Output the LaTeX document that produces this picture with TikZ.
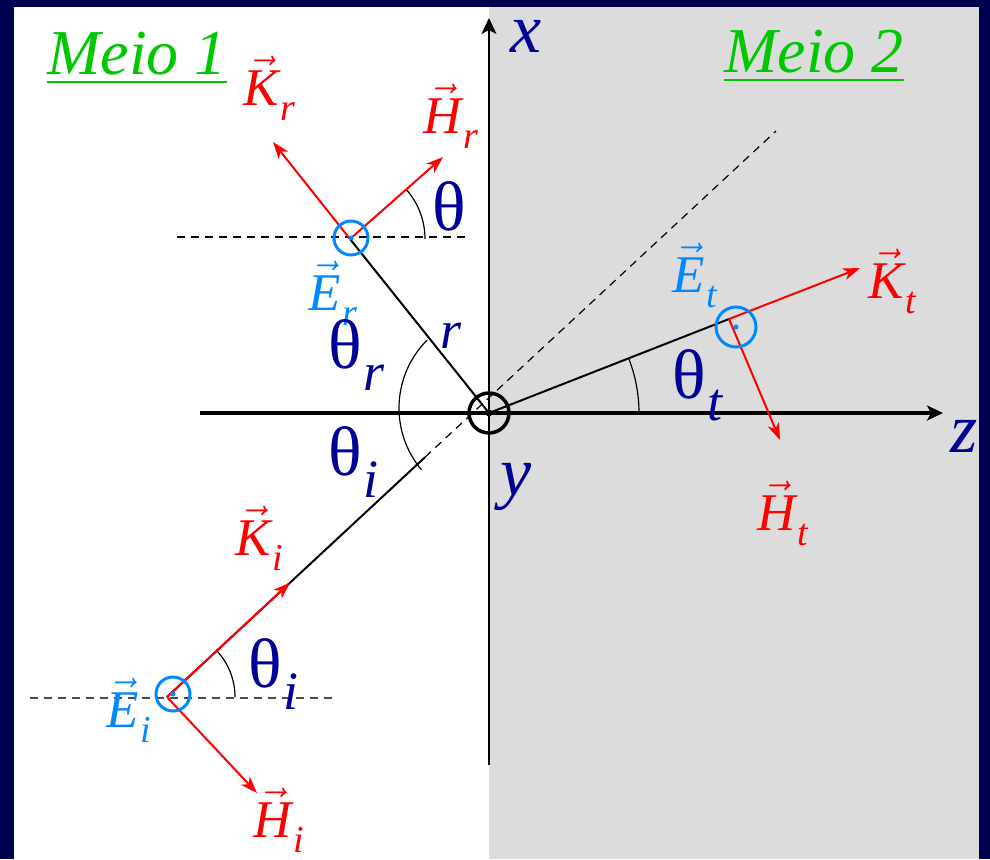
\documentclass[tikz,border=0pt]{standalone}
\usepackage{amsmath}
\usepackage{fontspec}
\setmainfont{Liberation Serif}
\newfontfamily\tnr{Liberation Serif}
\usetikzlibrary{calc, arrows.meta}

\definecolor{frame}{RGB}{0,0,80}
\definecolor{panel}{RGB}{220,220,220}
\definecolor{axisblue}{RGB}{0,0,150}
\definecolor{eblue}{RGB}{0,136,255}
\definecolor{meiogreen}{RGB}{0,200,0}

\newcommand{\vek}[2]{$\vec{\mbox{\tnr\itshape #1}}$\hspace{1pt}\raisebox{-7.5pt}{\fontsize{19}{19}\selectfont\tnr\itshape #2}}
\newcommand{\ang}[1]{θ\hspace{1pt}\raisebox{-11pt}{\fontsize{27}{27}\selectfont\tnr\itshape #1}}

\begin{document}
\begin{tikzpicture}[
			x=0.5pt, y=-0.5pt,
			vlab/.style={anchor=base west, inner sep=0pt, font=\fontsize{26.5}{30}\selectfont\tnr},
			klab/.style={vlab, text=red},
			elab/.style={vlab, text=eblue},
			alab/.style={anchor=base west, inner sep=0pt, text=axisblue, font=\fontsize{35}{40}\selectfont\tnr},
			meio/.style={anchor=base west, inner sep=0pt, text=meiogreen, font=\fontsize{32}{36}\selectfont\tnr\itshape},
			ray/.style={black, line width=1pt},
			field/.style={red, line width=1pt, -{Stealth[length=8.5pt, width=6pt, inset=2.5pt]}},
			axis/.style={black, -{Stealth[length=8pt, width=7.5pt, inset=2pt]}},
			guide/.style={dash pattern=on 4pt off 3pt, line width=0.6pt},
			marc/.style={line width=0.6pt},
			ering/.style={circle, draw=eblue, line width=1.5pt, inner sep=0pt, minimum size=17pt},
			oring/.style={circle, draw=black, line width=1.75pt, inner sep=0pt, minimum size=20pt}
			]
			
			\useasboundingbox (0,0) rectangle (990,859);
			\fill[frame] (0,0) rectangle (990,859);
			\fill[white] (14,7) rectangle (489,859);
			\fill[panel] (489,7) rectangle (979,859);
			
			\coordinate (orig) at (489,413);
			\coordinate (zstart) at (200,413);
			\coordinate (zend) at (943,413);
			\coordinate (xstart) at (489,765);
			\coordinate (xend) at (489,18);
			
			\coordinate (pinc) at (167,697);
			\coordinate (iend) at (776,131);
			\coordinate (kinc) at ($(pinc)!0.202!(iend)$);
			\coordinate (icut) at ($(pinc)!0.424!(iend)$);
			\coordinate (hinc) at (257,793);
			
			\coordinate (pref) at (350,239);
			\coordinate (kref) at (273,142);
			\coordinate (href) at (443,157);
			
			\coordinate (ptra) at (729,319);
			\coordinate (ktra) at (860,268);
			\coordinate (htra) at (780,440);
			
			% guides
			\coordinate (gl1) at (177,237);
			\coordinate (gr1) at (466,237);
			\coordinate (gl2) at (30,698);
			\coordinate (gr2) at (333,698);
			\draw[guide] (gl1) -- (gr1);
			\draw[guide, black!70] (gl2) -- (gr2);
			\draw[guide] (icut) -- (iend);
			
			% axes
			\draw[axis, line width=2pt] (zstart) -- (zend);
			\draw[axis, line width=1pt] (xstart) -- (xend);
			
			% rays
			\draw[ray] (pinc) -- (icut);
			\draw[ray] (orig) -- (pref);
			\draw[ray] (orig) -- (ptra);
			
			% angle arcs
			\draw[marc] ($(orig)+(6,-5)+(-135:96)$) arc[start angle=-135, end angle=-220, radius=96];
			\draw[marc] ($(orig)+(150,0)$) arc[start angle=0, end angle=-21, radius=150];
			\draw[marc] ($(pref)+(75,0)$) arc[start angle=0, end angle=-41.4, radius=75];
			\draw[marc] ($(pinc)+(68,0)$) arc[start angle=0, end angle=-43, radius=68];
			
			% field vectors
			\draw[field] (pinc) -- (kinc);
			\draw[field] (pinc) -- (hinc);
			\draw[field] (pref) -- (kref);
			\draw[field] (pref) -- (href);
			\draw[field] (ptra) -- (ktra);
			\draw[field] (ptra) -- (htra);
			
			% E out of the plane
			\node[ering] (ringi) at ($(pinc)+(6,-3)$) {};
			\node[ering] (ringr) at ($(pref)+(1,-1)$) {};
			\node[ering, minimum size=20pt] (ringt) at ($(ptra)+(7,8)$) {};
			\fill[eblue] (ringi) circle[radius=2.5];
			\fill[eblue] (ringr) circle[radius=2.5];
			\fill[eblue] (ringt) circle[radius=2.5];
			\node[oring] (ycirc) at (orig) {};
			\fill[black] (orig) circle[radius=3.5];
			
			% labels
			\node[meio] (meio1) at (47,74) {\underline{Meio 1}};
			\node[meio] (meio2) at (724,72) {\underline{Meio 2}};
			
			\node[alab, font=\fontsize{35}{40}\selectfont\tnr\itshape] (xlab) at (510,52) {x};
			\node[alab, font=\fontsize{35}{40}\selectfont\tnr\itshape] (ylab) at (500,495) {y};
			\node[alab, font=\fontsize{35}{40}\selectfont\tnr\itshape] (zlab) at (950,452) {z};
			
			\node[klab] (krlab) at (243,105) {\vek{K}{r}};
			\node[klab] (hrlab) at (423,133) {\vek{H}{r}};
			\node[elab] (erlab) at (308,310) {\vek{E}{r}};
			\node[klab] (kilab) at (235,555) {\vek{K}{i}};
			\node[klab] (hilab) at (253,837) {\vek{H}{i}};
			\node[elab] (eilab) at (106,727) {\vek{E}{i}};
			\node[elab] (etlab) at (672,292) {\vek{E}{t}};
			\node[klab] (ktlab) at (868,298) {\vek{K}{t}};
			\node[klab] (htlab) at (757,530) {\vek{H}{t}};
			
			\node[alab] (thr) at (328,368) {\ang{r}};
			\node[alab] (thi) at (328,475) {\ang{i}};
			\node[alab] (thh) at (432,230) {θ};
			\node[alab] (thii) at (248,687) {\ang{i}};
			\node[alab] (tht) at (672,398) {\ang{t}};
			\node[alab, font=\fontsize{27}{30}\selectfont\tnr\itshape] (rlab) at (440,348) {r};
			
		\end{tikzpicture}
\end{document}
